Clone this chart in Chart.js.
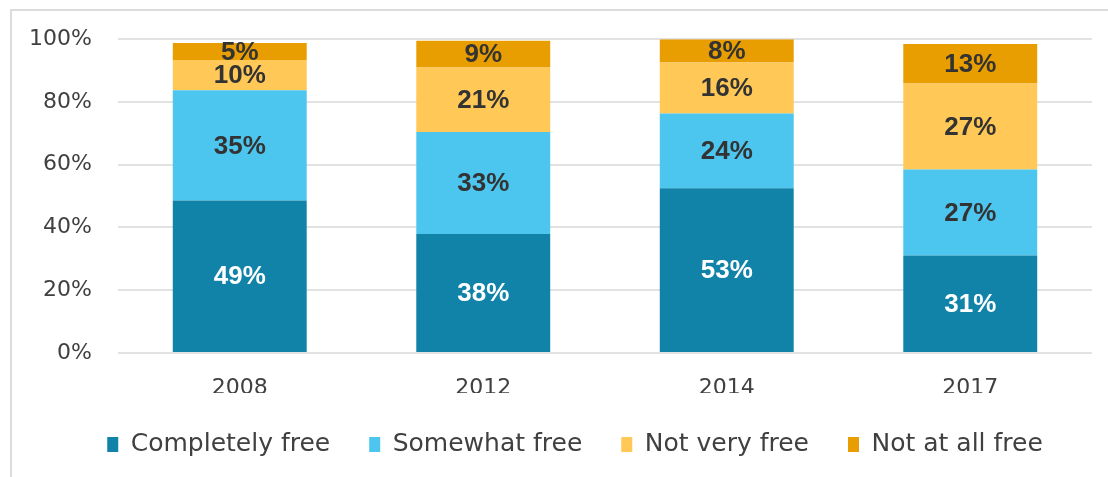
<!DOCTYPE html>
<html>
<head>
<meta charset="utf-8">
<script src="https://cdn.jsdelivr.net/npm/chart.js@4.4.0/dist/chart.umd.min.js"></script>
<style>
html,body{margin:0;padding:0;background:#ffffff;}
#wrap{position:relative;width:1108px;height:477px;overflow:hidden;}
#frame{position:absolute;left:10px;top:9px;right:-4px;bottom:-4px;border-left:2px solid #dcdcdc;border-top:2px solid #dcdcdc;}
#c{position:absolute;left:0;top:0;}
</style>
</head>
<body>
<div id="wrap"><div id="frame"></div><canvas id="c" width="1108" height="477"></canvas></div>
<script>
// Categories (survey years)
const categories = ['2008', '2012', '2014', '2017'];
// Series names
const seriesNames = ['Completely free', 'Somewhat free', 'Not very free', 'Not at all free'];
// Segment heights (percent)
const completelyFree = [48.6, 37.9, 52.5, 31.1];
const somewhatFree   = [35.1, 32.5, 23.8, 27.4];
const notVeryFree    = [9.7, 20.6, 16.3, 27.4];
const notAtAllFree   = [5.4, 8.5, 7.4, 12.6];
// Printed data labels
const completelyFreeLabels = ['49%', '38%', '53%', '31%'];
const somewhatFreeLabels   = ['35%', '33%', '24%', '27%'];
const notVeryFreeLabels    = ['10%', '21%', '16%', '27%'];
const notAtAllFreeLabels   = ['5%', '9%', '8%', '13%'];
// Y-axis ticks
const yTicks = [0, 20, 40, 60, 80, 100];

const colors = ['#1183A8', '#4DC6EF', '#FFC857', '#E89E00'];
const labelColors = ['#ffffff', '#333333', '#333333', '#333333'];
const seriesValues = [completelyFree, somewhatFree, notVeryFree, notAtAllFree];
const seriesLabels = [completelyFreeLabels, somewhatFreeLabels, notVeryFreeLabels, notAtAllFreeLabels];

const valueLabelPlugin = {
  id: 'valueLabels',
  afterDatasetsDraw(chart) {
    const ctx = chart.ctx;
    chart.data.datasets.forEach((ds, i) => {
      const meta = chart.getDatasetMeta(i);
      meta.data.forEach((bar, j) => {
        const p = bar.getProps(['x', 'y', 'base'], true);
        ctx.save();
        ctx.font = 'bold 26px "Liberation Sans", Arial, sans-serif';
        ctx.fillStyle = labelColors[i];
        ctx.textAlign = 'center';
        ctx.textBaseline = 'middle';
        ctx.fillText(seriesLabels[i][j], p.x, (p.y + p.base) / 2 + 1);
        ctx.restore();
      });
    });
  }
};

// Center the legend where the reference puts it
const legendShift = {
  id: 'legendShift',
  afterLayout(chart) {
    if (chart.legend) { chart.legend.left = 58; }
  }
};

new Chart(document.getElementById('c'), {
  type: 'bar',
  data: {
    labels: categories,
    datasets: seriesNames.map((name, i) => ({
      label: name,
      data: seriesValues[i],
      backgroundColor: colors[i],
      borderWidth: 0,
      barPercentage: 0.55,
      categoryPercentage: 1.0
    }))
  },
  options: {
    responsive: false,
    animation: false,
    devicePixelRatio: 1,
    layout: { padding: { left: 0, right: 16, top: 38, bottom: 10 } },
    plugins: {
      tooltip: { enabled: false },
      legend: {
        position: 'bottom',
        labels: {
          boxWidth: 11,
          boxHeight: 15,
          padding: 39,
          color: '#404040',
          font: { family: '"DejaVu Sans", sans-serif', size: 25 }
        }
      }
    },
    scales: {
      x: {
        stacked: true,
        grid: { display: false, drawTicks: false },
        border: { display: false },
        ticks: {
          color: '#404040',
          padding: 22,
          font: { family: '"DejaVu Sans", sans-serif', size: 22 }
        },
        afterFit(scale) { scale.height = 40; }
      },
      y: {
        stacked: true,
        min: 0,
        max: 100,
        afterBuildTicks(scale) { scale.ticks = yTicks.map(v => ({ value: v })); },
        grid: { color: '#e2e2e2', lineWidth: 2, drawTicks: false },
        border: { display: false },
        ticks: {
          color: '#404040',
          padding: 26,
          font: { family: '"DejaVu Sans", sans-serif', size: 22 },
          callback: v => v + '%'
        },
        afterFit(scale) { scale.width = 118; }
      }
    }
  },
  plugins: [valueLabelPlugin, legendShift]
});
</script>
</body>
</html>
